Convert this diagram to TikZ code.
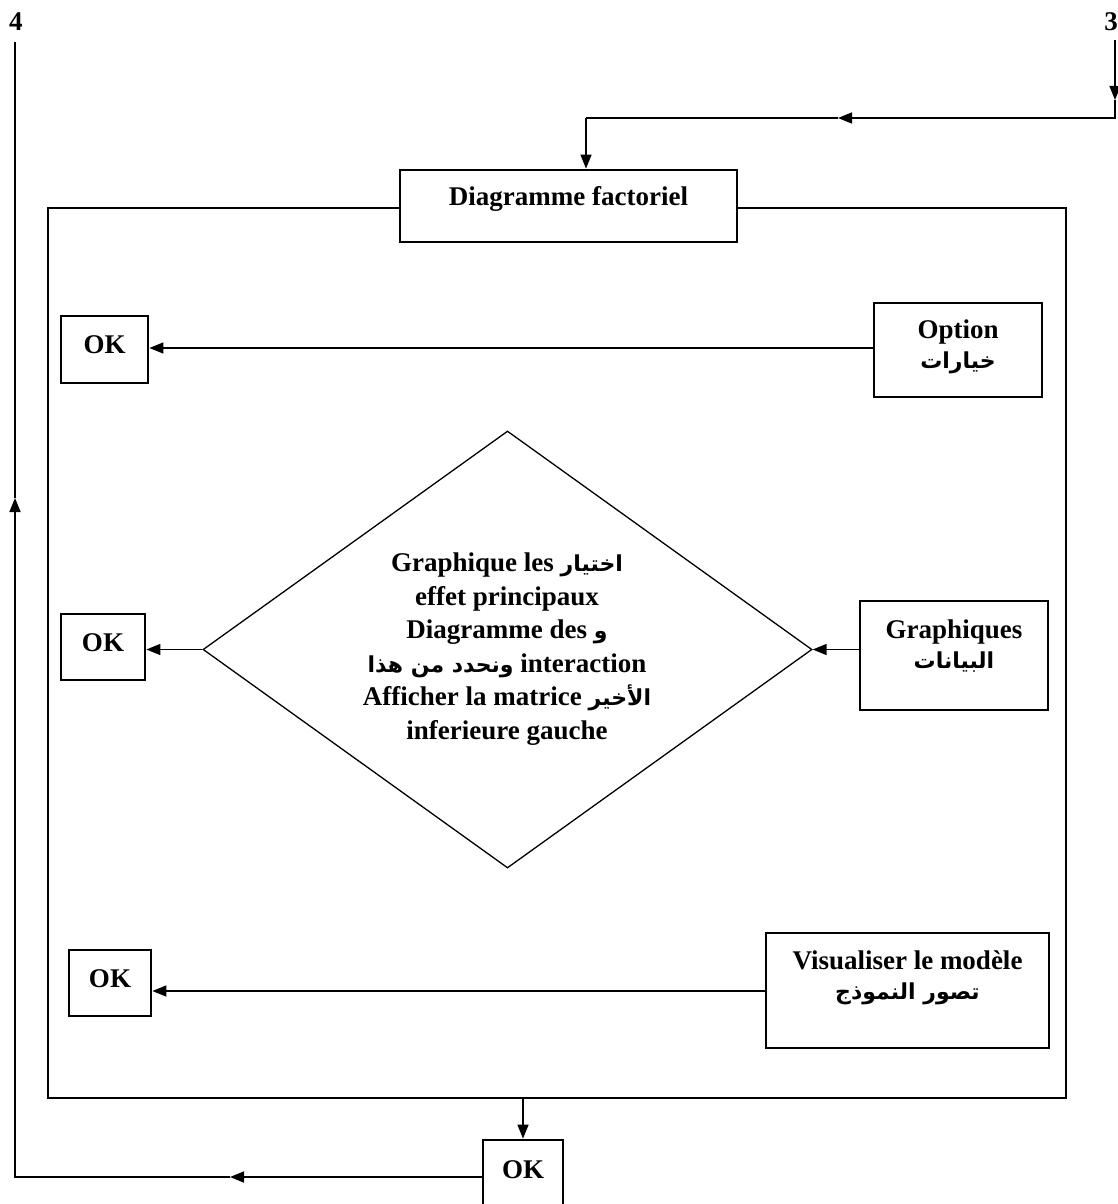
\documentclass[tikz,border=0pt]{standalone}
\usepackage{fontspec}
\setmainfont{Liberation Serif}
\newfontfamily\arabicfont[Script=Arabic]{DejaVu Sans}
\TeXXeTstate=1
\usetikzlibrary{arrows.meta,shapes.geometric}
\newcommand{\artxt}[1]{{\arabicfont\fontsize{22}{27}\selectfont\beginR #1\endR}}
\begin{document}
\begin{tikzpicture}[x=1pt,y=-1pt,
  font=\fontsize{27}{33.5}\selectfont\bfseries,
  box/.style={draw, line width=2.8pt, inner sep=0pt},
  txt/.style={align=center, inner sep=0pt},
  conn/.style={line width=1.6pt},
  arr/.style={conn, -{Triangle[length=14pt,width=11pt]}}]
\useasboundingbox (0,0) rectangle (1118,1204);
% outer frame
\node[draw, line width=2.2pt, minimum width=1018, minimum height=890, inner sep=0pt] (frame) at (557,653) {};
% title box
\node[box, fill=white, minimum width=337, minimum height=72] (df) at (568.5,206) {};
\node[txt] (dft) at (568.5,199) {Diagramme factoriel};
% OK boxes
\node[box, minimum width=87, minimum height=67] (ok1) at (104.5,349.5) {};
\node[txt] (ok1t) at (104.5,345) {OK};
\node[box, minimum width=84, minimum height=66] (ok2) at (103,647) {};
\node[txt] (ok2t) at (103,642.5) {OK};
\node[box, minimum width=82, minimum height=66] (ok3) at (110,983) {};
\node[txt] (ok3t) at (110,978.5) {OK};
\node[box, fill=white, minimum width=80, minimum height=76] (okb) at (523,1178) {};
\node[txt] (okbt) at (523,1170) {OK};
% right boxes
\node[box, minimum width=168, minimum height=94] (opt) at (958,350) {};
\node[txt] (optt) at (958,347) {Option\\[-4pt]\artxt{خيارات}};
\node[box, minimum width=188, minimum height=109] (gra) at (954,655.5) {};
\node[txt] (grat) at (954,646) {Graphiques\\[-4pt]\artxt{البيانات}};
\node[box, minimum width=283, minimum height=115] (vis) at (907.5,990.5) {};
\node[txt] (vist) at (907.5,978) {Visualiser le modèle\\[-4pt]\artxt{تصور النموذج}};
% diamond
\node[diamond, draw, line width=1.3pt, minimum width=609, minimum height=437, inner sep=0pt] (dia) at (507.5,649.5) {};
\node[txt] (dtext) at (507,649) {Graphique les \artxt{اختيار}\\
effet principaux\\
Diagramme des \artxt{و}\\
\artxt{ونحدد من هذا} interaction\\
Afficher la matrice \artxt{الأخير}\\
inferieure gauche};
% corner labels
\node[anchor=west, inner sep=0pt] (n4) at (9,22) {4};
\node[anchor=east, inner sep=0pt] (n3) at (1118,22) {3};
% horizontal connectors inside frame
\draw[arr] (opt.west |- 0,348) -- (ok1.east |- 0,348);
\draw[arr] (gra.west |- dia.east) -- (dia.east);
\draw[arr] (dia.west) -- (dia.west -| ok2.east);
\draw[arr] (vis.west |- 0,991) -- (ok3.east |- 0,991);
% frame to bottom OK
\draw[arr] (frame.south -| okb.north) -- (okb.north);
% return path to 4
\coordinate (bl) at (15,1177);
\coordinate (top4) at (15,42);
\draw[arr] (okb.west |- bl) -- (230,1177);
\draw[conn] (230,1177) -- (bl) -- (15,1000);
\draw[arr] (15,1000) -- (15,498);
\draw[conn] (15,498) -- (top4);
% input path from 3
\coordinate (top3) at (1115,40);
\coordinate (tr) at (1115,118);
\coordinate (tl) at (586,118);
\draw[arr] (top3) -- (1115,100);
\draw[conn] (1115,100) -- (tr) -- (900,118);
\draw[arr] (900,118) -- (838,118);
\draw[conn] (838,118) -- (tl);
\draw[arr] (tl) -- (tl |- df.north);
\end{tikzpicture}
\end{document}
